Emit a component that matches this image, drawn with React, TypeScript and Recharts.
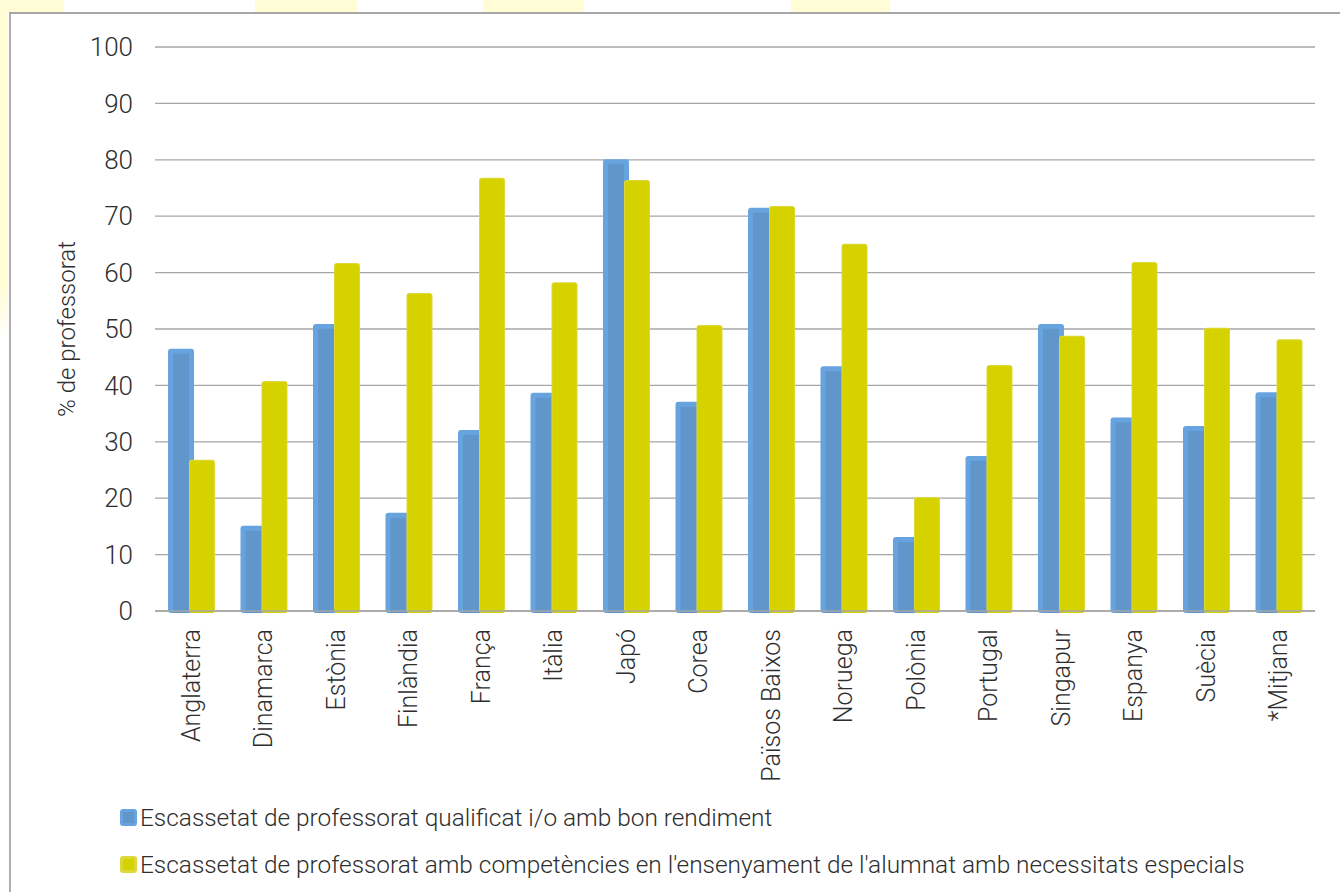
import React from 'react';
import { BarChart, Bar, XAxis, YAxis, CartesianGrid, Legend, Label } from 'recharts';

const categories = ['Anglaterra', 'Dinamarca', 'Estònia', 'Finlàndia', 'França', 'Itàlia', 'Japó', 'Corea', 'Països Baixos', 'Noruega', 'Polònia', 'Portugal', 'Singapur', 'Espanya', 'Suècia', '*Mitjana'];
const qualificat = [46.5, 15.1, 50.9, 17.4, 32.1, 38.7, 80.1, 37.1, 71.5, 43.4, 13.1, 27.5, 50.9, 34.3, 32.8, 38.8];
const especials = [26.8, 40.8, 61.7, 56.4, 76.8, 58.3, 76.4, 50.7, 71.8, 65.1, 20.2, 43.6, 48.8, 61.9, 50.2, 48.2];
const yTicks = [0, 10, 20, 30, 40, 50, 60, 70, 80, 90, 100];
const seriesNames = [
  'Escassetat de professorat qualificat i/o amb bon rendiment',
  "Escassetat de professorat amb competències en l'ensenyament de l'alumnat amb necessitats especials",
];

const data = categories.map((c, i) => ({ name: c, a: qualificat[i], b: especials[i] }));

const FONT = 'Roboto, "Noto Sans", sans-serif';
const TEXT = '#2e2e2e';
const BLUE_EDGE = '#67A3DF';
const BLUE_FILL = '#6096CA';
const YELLOW = '#D6D200';
const YELLOW_EDGE = '#DCD83A';

const BlueShape = (props: any) => {
  const { x, y, width, height } = props;
  if (!height || height <= 0) return null;
  const b = 5;
  return (
    <g>
      <rect x={x} y={y} width={width} height={height + 2} rx={3} ry={3} fill={BLUE_EDGE} />
      <rect x={x + b} y={y + b} width={Math.max(0, width - 2 * b)} height={Math.max(0, height + 2 - b)} fill={BLUE_FILL} />
    </g>
  );
};

const YellowShape = (props: any) => {
  const { x, y, width, height } = props;
  if (!height || height <= 0) return null;
  return (
    <g>
      <rect x={x} y={y} width={width} height={height + 2} rx={3} ry={3} fill={YELLOW_EDGE} />
      <rect x={x + 1} y={y + 1} width={width - 2} height={height + 1} rx={2} ry={2} fill={YELLOW} />
    </g>
  );
};

const XTick = (props: any) => {
  const { x, y, payload } = props;
  return (
    <text
      x={x}
      y={y}
      transform={`rotate(-90, ${x}, ${y})`}
      textAnchor="end"
      dominantBaseline="central"
      fill={TEXT}
      fontSize={25}
      fontWeight={300}
      fontFamily={FONT}
    >
      {payload.value}
    </text>
  );
};

const LegendContent = () => {
  const swatches = [
    { edge: BLUE_EDGE, fill: BLUE_FILL },
    { edge: YELLOW_EDGE, fill: YELLOW },
  ];
  return (
    <div style={{ fontFamily: FONT, fontWeight: 300, fontSize: 24.4, color: TEXT, textAlign: 'left' }}>
      {seriesNames.map((n, i) => (
        <div key={n} style={{ display: 'flex', alignItems: 'center', height: 47, whiteSpace: 'nowrap' }}>
          <span
            style={{
              display: 'inline-block',
              flexShrink: 0,
              width: 17,
              height: 17,
              borderRadius: 3,
              background: swatches[i].fill,
              border: `3px solid ${swatches[i].edge}`,
              boxSizing: 'border-box',
              marginRight: 3,
            }}
          />
          <span>{n}</span>
        </div>
      ))}
    </div>
  );
};

const patchStyle = (left: number, width: number): React.CSSProperties => ({
  position: 'absolute',
  left,
  top: 0,
  width,
  height: 12,
  background: '#FFFCD6',
});

export default function App() {
  return (
    <div style={{ position: 'fixed', left: 0, top: 0, width: 1340, height: 892, overflow: 'hidden', background: '#fff' }}>
      <div style={patchStyle(0, 64)} />
      <div style={patchStyle(255, 102)} />
      <div style={patchStyle(483, 101)} />
      <div style={patchStyle(791, 99)} />
      <div
        style={{
          position: 'absolute',
          left: 0,
          top: 0,
          width: 8,
          height: 342,
          background: 'linear-gradient(#FFFCD6 85%, #ffffff)',
        }}
      />
      <div
        style={{
          position: 'absolute',
          left: 9,
          top: 12,
          width: 1400,
          height: 1000,
          borderLeft: '2px solid #AFAFAF',
          borderTop: '2px solid #A6A6A6',
        }}
      />
      <div style={{ position: 'absolute', left: 0, top: 0 }}>
        <BarChart
          width={1340}
          height={892}
          data={data}
          margin={{ top: 47, right: 25, left: 0, bottom: 0 }}
          barSize={26}
          barGap={-5}
        >
          <CartesianGrid vertical={false} stroke="#A6A6A6" strokeWidth={1.3} />
          <XAxis
            dataKey="name"
            interval={0}
            height={281}
            tickLine={false}
            tickSize={6}
            tickMargin={12}
            axisLine={{ stroke: '#A6A6A6', strokeWidth: 1.5 }}
            tick={<XTick />}
          />
          <YAxis
            width={155}
            domain={[0, 100]}
            ticks={yTicks}
            interval={0}
            axisLine={false}
            tickLine={false}
            tickSize={6}
            tickMargin={16}
            tick={{ fill: TEXT, fontSize: 26, fontWeight: 300, fontFamily: FONT }}
          >
            <Label
              value="% de professorat"
              angle={-90}
              position="insideLeft"
              offset={66}
              style={{ textAnchor: 'middle', fill: TEXT, fontSize: 24, fontWeight: 300, fontFamily: FONT }}
            />
          </YAxis>
          <Legend
            layout="horizontal"
            verticalAlign="middle"
            align="center"
            content={<LegendContent />}
            wrapperStyle={{ left: 120, top: 794, width: 1200 }}
          />
          <Bar dataKey="a" name={seriesNames[0]} fill={BLUE_FILL} shape={<BlueShape />} isAnimationActive={false} />
          <Bar dataKey="b" name={seriesNames[1]} fill={YELLOW} shape={<YellowShape />} isAnimationActive={false} />
        </BarChart>
      </div>
    </div>
  );
}
